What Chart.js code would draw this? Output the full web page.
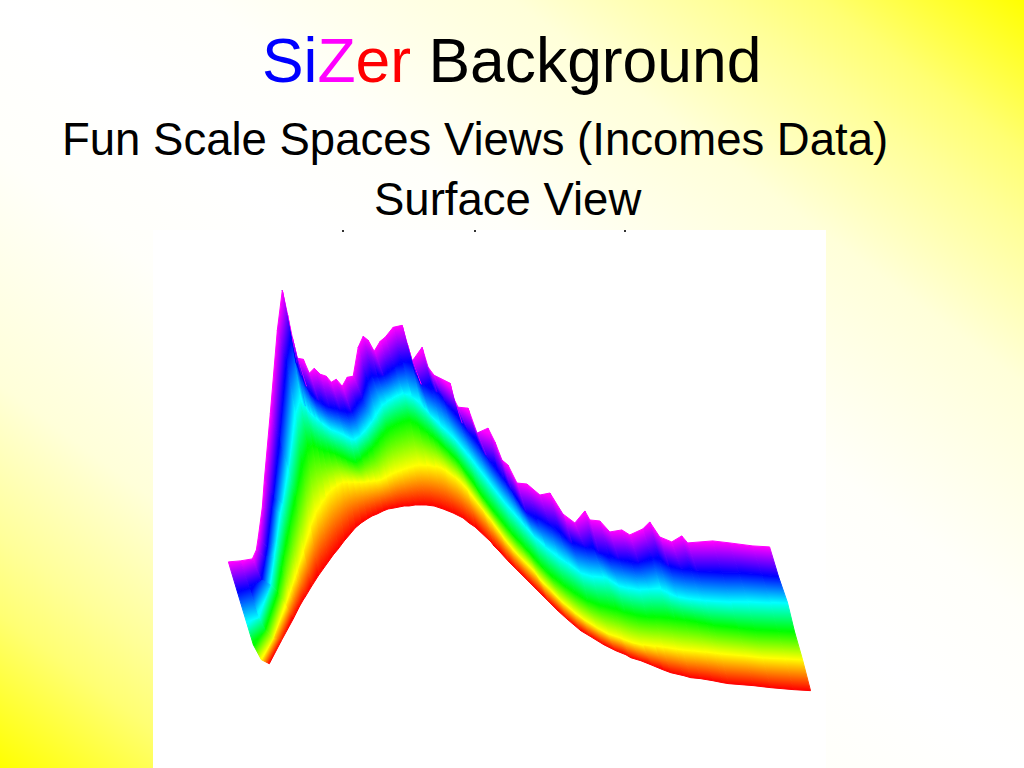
<!DOCTYPE html>
<html lang="en">
<head>
  <meta charset="UTF-8">
  <title>SiZer Background</title>
  <script src="https://cdn.jsdelivr.net/npm/chart.js"></script>
  <style>
    html, body { margin: 0; padding: 0; }
    body { width: 1024px; height: 768px; overflow: hidden; position: relative;
      font-family: "Liberation Sans", Arial, sans-serif; color: #000;
      background: linear-gradient(to top right, #ffff00 0%, #ffff73 10%, #ffff99 15%, #ffffd9 25%, #fffffa 40%, #ffffff 50%, #fffffa 60%, #ffffd9 75%, #ffff99 85%, #ffff73 90%, #ffff00 100%); }
    .line { position: absolute; white-space: nowrap; line-height: 1; }
    #title { left: 262px; top: 30px; font-size: 62.4px; }
    #sub1 { left: 62px; top: 117px; font-size: 45.5px; }
    #sub2 { left: 374px; top: 177px; font-size: 45.5px; }
    #panel { position: absolute; left: 153px; top: 230px; width: 673px; height: 538px; background: #fff; }
    .speck { position: absolute; top: 230px; width: 2px; height: 2px; background: #333; }
  </style>
</head>
<body>
  <div class="line" id="title"><span style="color:#0000ff">Si</span><span style="color:#ff00ff">Z</span><span style="color:#ff0000">er</span> Background</div>
  <div class="line" id="sub1">Fun Scale Spaces Views (Incomes Data)</div>
  <div class="line" id="sub2">Surface View</div>
  <div id="panel"><canvas id="surface" width="673" height="538"></canvas></div>
  <div class="speck" style="left:342px"></div>
  <div class="speck" style="left:474px"></div>
  <div class="speck" style="left:624px"></div>

  <script>
    // income grid along the back edge of the surface
    const gridX = [228,240,252,256,258,262,264,270,277,282,287,292,297,303,309,314,320,326,331,336,342,347,353,358,363,368,374,380,385,393,402,407,412,422,428,434,450,453,458,468,477,488,495,502,508,517,527,540,550,563,575,585,590,600,610,622,630,643,650,660,672,682,688,713,730,753,770];

    // each row is one bandwidth of the family (y in slide pixels)
    const rowMagenta = [562,561,559,550,537,507,480,413,330,290,313,337,358,359,373,368,374,376,382,379,386,377,376,347,336,340,351,341,337,327,325,343,361,347,367,375,383,397,407,408,433,428,442,460,465,483,484,495,493,514,523,511,520,521,532,530,535,529,522,537,542,536,543,541,543,546,547];
    const rowBlue = [592,588,580,557,547,508,497,440,360,337,363,375,386,396,400,404,407,408,410,411,412,405,397,380,376,376,375,371,367,362,361,374,384,387,392,398,419,423,429,442,455,470,479,489,499,512,518,523,532,543,546,549,553,556,559,562,563,558,559,566,569,570,571,573,573,575,577];
    const rowCyan = [622,618,585,556,542,513,504,470,414,399,406,413,417,422,427,430,432,435,438,440,435,430,422,415,406,402,398,395,393,395,403,408,414,425,430,436,454,458,465,478,490,504,512,520,527,537,546,557,563,573,577,577,578,586,588,590,589,589,593,597,599,600,601,602,602,603,603];
    const rowGreen = [645,630,592,568,557,537,527,497,465,449,444,447,450,451,453,455,458,461,462,458,452,448,440,434,429,426,423,421,420,425,432,436,440,450,456,462,485,490,497,510,521,535,542,550,556,567,576,586,593,601,605,608,609,612,615,617,617,618,619,620,622,624,625,628,630,631,632];
    const rowYellow = [660,638,605,594,588,576,570,551,527,513,505,497,490,486,482,482,482,482,482,481,481,480,477,474,472,470,468,466,465,465,466,467,470,477,482,489,510,514,520,534,546,558,565,572,581,589,600,611,619,627,634,637,639,643,645,646,647,649,650,651,652,653,654,656,658,659,660];
    const rowRed = [664,641,619,611,607,600,597,587,576,569,562,555,549,541,534,528,523,519,516,514,511,509,508,507,506,506,505,505,505,506,509,511,513,518,523,527,542,546,551,562,571,582,589,596,602,611,620,631,637,645,651,655,658,661,665,670,673,676,678,679,681,683,684,686,688,690,691];

    // sideways shift of each row against the grid (the surface is drawn in perspective)
    const rowShift = [0, 9, 18, 25, 33, 41];
    const rowColors = ['#ff00ff', '#0000ff', '#00ffff', '#00ff00', '#ffff00', '#ff0000'];
    const rows = [rowMagenta, rowBlue, rowCyan, rowGreen, rowYellow, rowRed];

    // colour runs across the band, so the gradient follows the normal of the cell
    function cellGradient(context, cell, colorA, colorB) {
      const chart = context.chart;
      const sx = chart.scales.x, sy = chart.scales.y;
      if (!sx || !sy) return colorA;
      const p = cell.map(c => ({ x: sx.getPixelForValue(c.x), y: sy.getPixelForValue(c.y) }));
      if (!p.every(q => isFinite(q.x) && isFinite(q.y))) return colorA; // first pass, before layout
      const dx = (p[1].x - p[0].x) + (p[2].x - p[3].x);
      const dy = (p[1].y - p[0].y) + (p[2].y - p[3].y);
      const len = Math.hypot(dx, dy) || 1;
      const nx = -dy / len, ny = dx / len;
      const ax = (p[0].x + p[1].x) / 2, ay = (p[0].y + p[1].y) / 2;
      const bx = (p[2].x + p[3].x) / 2, by = (p[2].y + p[3].y) / 2;
      const d = (bx - ax) * nx + (by - ay) * ny;
      const g = chart.ctx.createLinearGradient(ax, ay, ax + nx * d, ay + ny * d);
      g.addColorStop(0, colorA);
      g.addColorStop(1, colorB);
      return g;
    }

    const datasets = [];
    for (let b = 0; b < rows.length - 1; b++) {
      for (let i = 0; i < gridX.length - 1; i++) {
        const cell = [
          { x: gridX[i] + rowShift[b], y: rows[b][i] },
          { x: gridX[i + 1] + rowShift[b], y: rows[b][i + 1] },
          { x: gridX[i + 1] + rowShift[b + 1], y: rows[b + 1][i + 1] },
          { x: gridX[i] + rowShift[b + 1], y: rows[b + 1][i] }
        ];
        const paint = ctx => cellGradient(ctx, cell, rowColors[b], rowColors[b + 1]);
        datasets.push({
          data: cell.concat([cell[0]]),
          showLine: true,
          fill: 'shape',
          tension: 0,
          pointRadius: 0,
          borderWidth: 1,
          borderColor: paint,
          backgroundColor: paint
        });
      }
    }

    const surface = new Chart(document.getElementById('surface'), {
      type: 'scatter',
      data: { datasets },
      options: {
        responsive: false,
        animation: false,
        events: [],
        layout: { padding: 0 },
        plugins: { legend: { display: false }, tooltip: { enabled: false } },
        scales: {
          x: { type: 'linear', display: false, min: 153, max: 826 },
          y: { type: 'linear', display: false, reverse: true, min: 230, max: 768 }
        }
      }
    });
    surface.update();
  </script>
</body>
</html>
